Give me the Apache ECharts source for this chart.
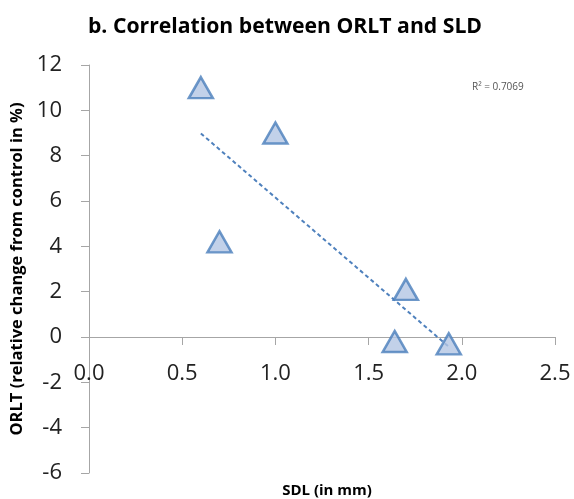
<!DOCTYPE html>
<html>
<head>
<meta charset="utf-8">
<script src="https://cdn.jsdelivr.net/npm/echarts@6/dist/echarts.min.js"></script>
<style>
  html, body { margin: 0; padding: 0; background: #fff; }
  #chart { width: 574px; height: 499px; }
</style>
</head>
<body>
<div id="chart"></div>
<script>
    // SDL (mm) and ORLT (% change)
    var sdl = [0.6, 0.7, 1.0, 1.64, 1.7, 1.93];
    var orlt = [11.0, 4.2, 9.0, -0.2, 2.1, -0.3];
    var rSquaredLabel = 'R² = 0.7069';

    // least squares fit for the dashed trend line
    var n = sdl.length, mx = 0, my = 0;
    for (var i = 0; i < n; i++) { mx += sdl[i] / n; my += orlt[i] / n; }
    var sxy = 0, sxx = 0;
    for (var i = 0; i < n; i++) {
        sxy += (sdl[i] - mx) * (orlt[i] - my);
        sxx += (sdl[i] - mx) * (sdl[i] - mx);
    }
    var slope = sxy / sxx, icpt = my - slope * mx;
    var xMin = Math.min.apply(null, sdl), xMax = Math.max.apply(null, sdl);
    var trend = [[xMin, icpt + slope * xMin], [xMax, icpt + slope * xMax]];

    var chart = echarts.init(document.getElementById('chart'));
    var font = 'Open Sans';
    var axisGray = '#a6a6a6';

    var option = {
        animation: false,
        title: [{
            text: 'b. Correlation between ORLT and SLD',
            left: 280, top: 11, textAlign: 'center',
            textStyle: { fontFamily: font, fontSize: 21.2, fontWeight: 'bold', color: '#000' }
        }, {
            text: 'SDL (in mm)',
            left: 322, top: 478, textAlign: 'center',
            textStyle: { fontFamily: font, fontSize: 15, fontWeight: 'bold', color: '#000' }
        }, {
            text: rSquaredLabel,
            left: 467, top: 77,
            textStyle: { fontFamily: font, fontSize: 10, fontWeight: 'normal', color: '#555' }
        }],
        grid: { left: 89, right: 19, top: 65, bottom: 26, outerBoundsMode: 'none', containLabel: false },
        xAxis: {
            type: 'value', min: 0, max: 2.5, interval: 0.5,
            axisLine: { onZero: true, onZeroAxisIndex: 0, lineStyle: { color: axisGray } },
            axisTick: { show: true, length: 8, lineStyle: { color: axisGray } },
            axisLabel: {
                // labels sit just under the zero line, not at the grid bottom
                margin: -110, fontFamily: font, fontSize: 22, color: '#222',
                formatter: function (v) { return v.toFixed(1); }
            },
            splitLine: { show: false }
        },
        yAxis: {
            type: 'value', min: -6, max: 12, interval: 2,
            name: 'ORLT (relative change from control in %)',
            nameLocation: 'middle', nameGap: 60, nameRotate: 90,
            nameTextStyle: { fontFamily: font, fontSize: 16.5, fontWeight: 'bold', color: '#000' },
            axisLine: { show: true, onZero: false, lineStyle: { color: axisGray } },
            axisTick: { show: true, length: 8, lineStyle: { color: axisGray } },
            axisLabel: { margin: 27, fontFamily: font, fontSize: 22, color: '#222' },
            splitLine: { show: false }
        },
        series: [{
            type: 'line',
            data: trend,
            symbol: 'none',
            lineStyle: { color: '#4f81bd', width: 2, type: [4, 3] },
            z: 1
        }, {
            type: 'scatter',
            data: sdl.map(function (x, k) { return [x, orlt[k]]; }),
            symbol: 'triangle',
            symbolSize: [24, 21],
            itemStyle: { color: '#b3c6e4', borderColor: '#4a7ebb', borderWidth: 2.5 },
            z: 2
        }]
    };

    chart.setOption(option);
</script>
</body>
</html>
